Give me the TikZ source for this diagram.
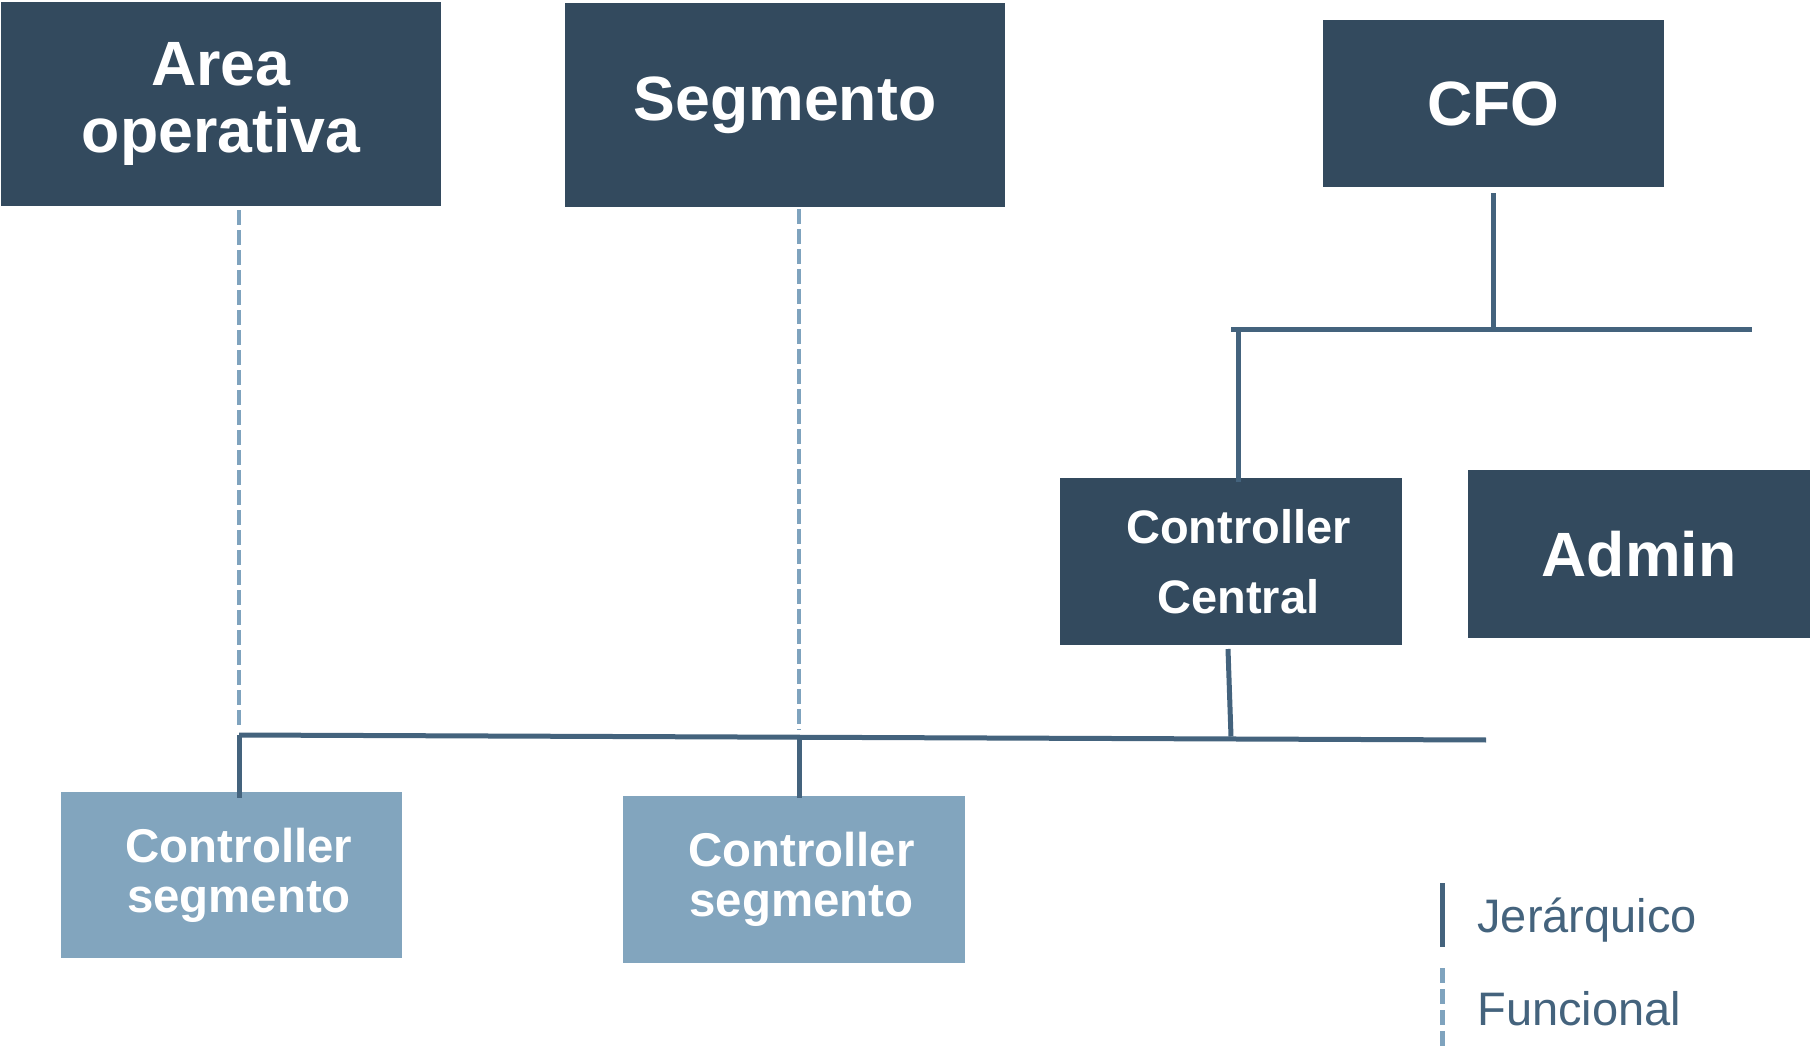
\documentclass[tikz,border=0pt]{standalone}
\usepackage{fontspec}
\setmainfont{Liberation Sans}
\definecolor{boxdark}{HTML}{334A5E}
\definecolor{boxlight}{HTML}{82A5BE}
\definecolor{linedark}{HTML}{44637D}
\definecolor{linelight}{HTML}{7FA3BE}
% pushes a centred line a little to the right
\newcommand{\nudgeline}{\hspace*{7.5pt}}
\begin{document}
\begin{tikzpicture}[x=0.5pt,y=-0.5pt,
  darkbox/.style={fill=boxdark, text=white, align=center, inner sep=0pt,
    font=\bfseries\fontsize{31.3}{33.5}\selectfont},
  midbox/.style={fill=boxdark, text=white, align=center, inner sep=0pt,
    font=\bfseries\fontsize{23.5}{35}\selectfont},
  lightbox/.style={fill=boxlight, text=white, align=center, inner sep=0pt,
    font=\bfseries\fontsize{23.7}{25}\selectfont},
  hier/.style={draw=linedark, line width=2.5pt},
  func/.style={draw=linelight, line width=2.2pt, dash pattern=on 7.5pt off 2.5pt},
  legendtext/.style={text=linedark, anchor=base west, inner sep=0pt,
    font=\fontsize{23.5}{28}\selectfont}]
\useasboundingbox (0,0) rectangle (1812,1048);

% boxes
\node[darkbox, minimum width=220pt, minimum height=102pt] (area) at (221,104) {Area\\operativa};
\node[darkbox, minimum width=220pt, minimum height=102pt] (seg) at (785,105) {Segmento};
\node[darkbox, minimum width=170.5pt, minimum height=83.5pt] (cfo) at (1493.5,103.5) {CFO};
\node[midbox, minimum width=171pt, minimum height=83.5pt] (cc) at (1231,561.5) {\nudgeline Controller\\\nudgeline Central};
\node[darkbox, minimum width=171pt, minimum height=84pt] (admin) at (1639,554) {Admin};
\node[lightbox, minimum width=170.5pt, minimum height=83pt] (cs1) at (231.5,875) {\nudgeline Controller\\\nudgeline segmento};
\node[lightbox, minimum width=171pt, minimum height=83.5pt] (cs2) at (794,879.5) {\nudgeline Controller\\\nudgeline segmento};

% bus ends
\coordinate (topL) at (1231,330);
\coordinate (topR) at (1752,330);
\coordinate (botL) at (239,735);
\coordinate (botR) at (1486,740);
\coordinate (ccdrop) at (1231,736.5);
\coordinate (ccup) at (1238,330);

% hierarchical lines
\draw[hier] ([yshift=-3pt]cfo.south) -- (cfo.south |- topL);
\draw[hier] (topL) -- (topR);
\draw[hier] (ccup) -- ([yshift=-2pt]ccup |- cc.north);
\draw[hier] (1228,649) -- (ccdrop);
\draw[hier] (botL) -- (botR);
\draw[hier] (botL) -- ([yshift=-3pt]botL |- cs1.north);
\draw[hier] (799,737) -- ([yshift=-1pt]cs2.north -| 799,0);

% functional lines
\draw[func] ([yshift=-2pt]area.south -| botL) -- ([yshift=2.5pt]botL);
\draw[func] ([yshift=-1pt]seg.south -| 799,0) -- (799,730);

% legend
\coordinate (legA) at (1442,883);
\coordinate (legB) at (1442,947);
\coordinate (legC) at (1442,968);
\coordinate (legD) at (1442,1048);
\draw[draw=linedark, line width=2.5pt] (legA) -- (legB);
\draw[draw=linelight, line width=2.5pt, dash pattern=on 7.5pt off 3pt] (legC) -- (legD);
\node[legendtext] (jer) at (1477,932) {Jerárquico};
\node[legendtext] (fun) at (1477,1025) {Funcional};
\end{tikzpicture}
\end{document}
